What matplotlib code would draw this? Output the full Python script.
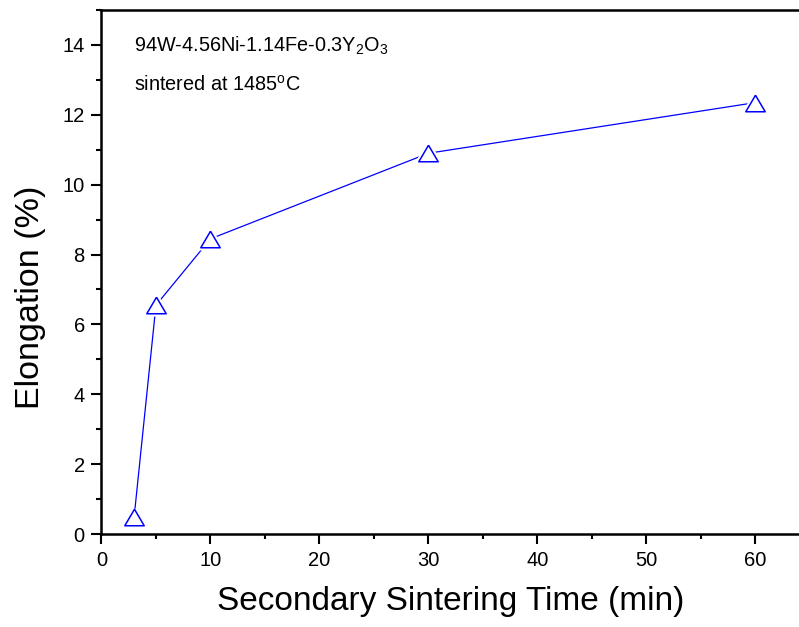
import numpy as np
import matplotlib
matplotlib.use('Agg')
import matplotlib.pyplot as plt
from matplotlib.ticker import MultipleLocator

plt.rcParams['font.family'] = ['Liberation Sans', 'DejaVu Sans']
plt.rcParams['mathtext.fontset'] = 'custom'
plt.rcParams['mathtext.rm'] = 'Liberation Sans'
plt.rcParams['mathtext.it'] = 'Liberation Sans'

# secondary sintering time (min) and elongation (%)
time_min = [3, 5, 10, 30, 60]
elongation = [0.5, 6.55, 8.45, 10.9, 12.35]

# Origin-like triangle, a bit wider than tall
tri = [(0, 0.85), (-1, -0.85), (1, -0.85), (0, 0.85)]

fig = plt.figure(figsize=(7.99, 6.27), dpi=100)
ax = fig.add_axes([0.127, 0.1483, 0.873, 0.8357])

ax.plot(time_min, elongation, color='blue', lw=0.9, zorder=2)
# white halo so the line stops short of the markers
ax.plot(time_min, elongation, ls='none', marker=tri, ms=14, mfc='white',
        mec='white', mew=4, zorder=3)
ax.plot(time_min, elongation, ls='none', marker=tri, ms=14, mfc='none',
        mec='blue', mew=1.1, zorder=4)

ax.set_xlim(0, 64)
ax.set_ylim(0, 15)
ax.xaxis.set_major_locator(MultipleLocator(10))
ax.xaxis.set_minor_locator(MultipleLocator(5))
ax.yaxis.set_major_locator(MultipleLocator(2))
ax.yaxis.set_minor_locator(MultipleLocator(1))
ax.tick_params(which='major', direction='out', length=7, width=1.5,
               labelsize=14.5)
ax.tick_params(axis='x', which='major', pad=5)
ax.tick_params(axis='y', which='major', pad=5)
ax.tick_params(which='minor', direction='out', length=3.5, width=1.5)
for s in ['left', 'bottom', 'top']:
    ax.spines[s].set_linewidth(1.8)
ax.spines['right'].set_visible(False)

ax.set_xlabel('Secondary Sintering Time (min)', fontsize=24, labelpad=12)
ax.set_ylabel('Elongation (%)', fontsize=24.5, labelpad=12, y=0.452)

ax.text(0.047, 0.92, '94W-4.56Ni-1.14Fe-0.3Y$_2$O$_3$', transform=ax.transAxes,
        fontsize=14.3, va='baseline')
ax.text(0.047, 0.847, 'sintered at 1485$^{\\rm o}$C', transform=ax.transAxes,
        fontsize=14.3, va='baseline')

fig.savefig('out.png', dpi=100)
